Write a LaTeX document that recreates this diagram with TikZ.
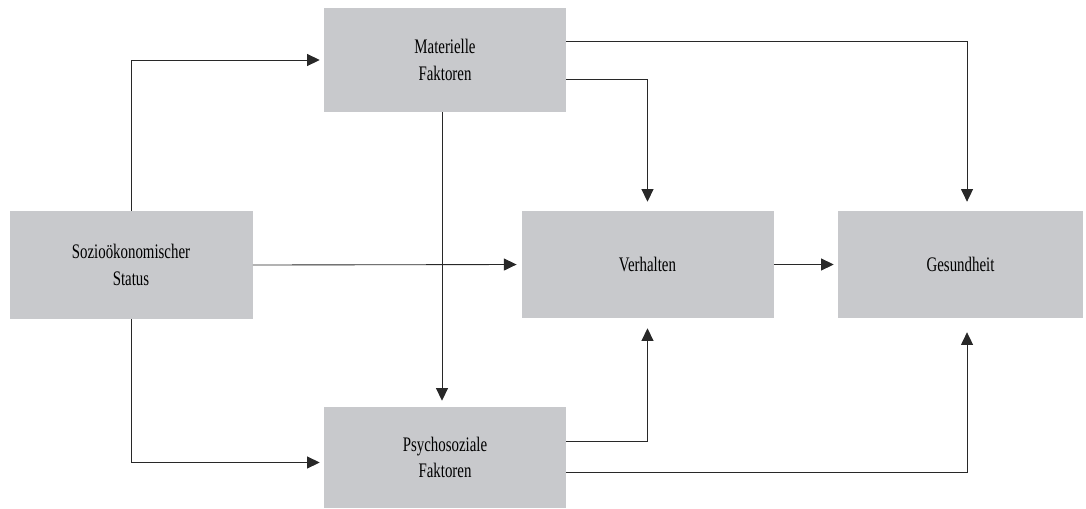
\documentclass[tikz,border=0pt]{standalone}
\usepackage{fontspec}
\usetikzlibrary{arrows.meta}
\newfontfamily\condserif{Liberation Serif}[FakeStretch=0.72]
\definecolor{boxgray}{RGB}{200,201,204}
\definecolor{linegray}{RGB}{40,40,40}

\begin{document}
\begin{tikzpicture}[x=0.75pt,y=-0.75pt,
 factor/.style ={fill=boxgray, draw=none, inner sep=0pt, align=center,
   minimum width=181.5pt, minimum height=80pt,
   font=\condserif\fontsize{15.5}{20}\selectfont},
 link/.style ={-{Triangle[length=9.5pt,width=9pt]}, draw=linegray, line width=0.65pt, shorten >=3pt}
 ]
\useasboundingbox (0,0) rectangle (1086,508);
%draw boxes
\node[factor, minimum width=182.25pt, minimum height=81pt] (status) at (131,265) {Sozioökonomischer\\Status};
\node[factor, minimum height=78pt] (material) at (445,60) {Materielle\\Faktoren};
\node[factor, minimum height=75.75pt] (psychosocial) at (445,457.5) {Psychosoziale\\Faktoren};
\node[factor, minimum width=189pt, minimum height=80.25pt] (behaviour) at (647.5,264.5) {Verhalten};
\node[factor, minimum width=183.75pt, minimum height=80.25pt] (health) at (960.5,264.5) {Gesundheit};
%draw links from status
\draw[link] (status.north) |- (material.west);
\draw[link, shorten >=3.5pt] (status.east) -- (behaviour.west);
\draw[link] (status.south) |- ([yshift=-3.75pt]psychosocial.west);
%draw links from material factors
\draw[link, shorten >=4.5pt] ([xshift=-2.25pt]material.south) -- ([xshift=-2.25pt]psychosocial.north);
\draw[link, shorten >=6.75pt] ([yshift=-14.25pt]material.east) -| (behaviour.north);
\draw[link, shorten >=6.75pt] ([yshift=14pt]material.east) -| ([xshift=4.9pt]health.north);
%draw links from psychosocial factors
\draw[link, shorten >=7.5pt] ([yshift=12.2pt]psychosocial.east) -| (behaviour.south);
\draw[link, shorten >=10.5pt] ([yshift=-11.4pt]psychosocial.east) -| ([xshift=4.9pt]health.south);
%draw behaviour -> health
\draw[link] (behaviour.east) -- (health.west);
\end{tikzpicture}
\end{document}
